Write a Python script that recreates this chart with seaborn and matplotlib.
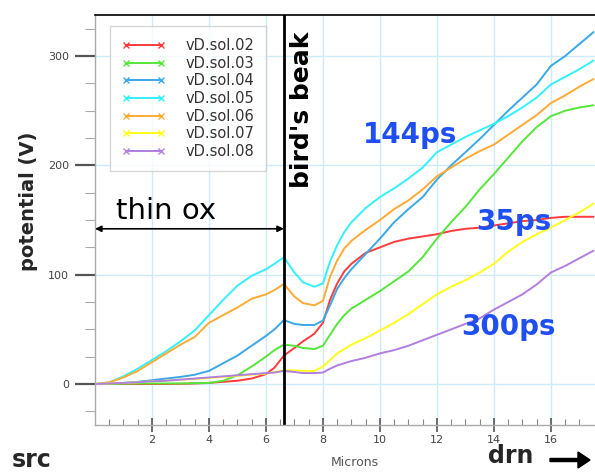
import numpy as np
import pandas as pd
import matplotlib
matplotlib.use("Agg")
import matplotlib.pyplot as plt
from matplotlib.lines import Line2D
import seaborn as sns

x_microns = [0, 0.5, 1, 1.5, 2, 2.5, 3, 3.5, 4, 4.5, 5, 5.5, 6, 6.3, 6.63, 7.0, 7.3, 7.7, 8.0, 8.25,
             8.5, 8.75, 9.0, 9.5, 10.0, 10.5, 11.0, 11.5, 12.0, 12.5, 13.0, 13.5, 14.0, 14.5, 15.0,
             15.5, 16.0, 16.5, 17.0, 17.5]

sol02 = [0, 0, 0, 0, 0, 0, 0.2, 0.5, 1, 2, 3, 5, 9, 15, 26, 33, 39, 46, 56, 77,
         92, 103, 110, 120, 125, 130, 133, 135, 137, 140, 142, 143, 145, 147, 149,
         150, 152, 153, 153, 153]
sol03 = [0, 0, 0.3, 0.5, 0.5, 0.5, 0.5, 0.8, 1, 3, 8, 16, 25, 31, 36, 35, 33, 32, 35, 45,
         55, 63, 69, 77, 85, 94, 103, 116, 133, 148, 162, 178, 192, 207, 222,
         235, 245, 250, 253, 255]
sol04 = [0, 0.5, 1, 2, 3.5, 5, 6.5, 8.5, 12, 19, 26, 35, 44, 50, 58.5, 55, 54, 54, 58, 72,
         87, 97, 105, 119, 133, 148, 160, 171, 187, 200, 212, 224, 237, 250, 262,
         274, 291, 300, 311, 322]
sol05 = [0, 1.5, 7, 14, 22, 30, 39, 49, 63, 77, 90, 99, 105, 110, 116, 102, 93, 89, 92, 112,
         127, 139, 148, 161, 171, 179, 188, 198, 212, 219, 226, 232, 238, 245, 253,
         262, 274, 281, 288, 296]
sol06 = [0, 1.5, 6, 12, 20, 28, 36, 43, 56, 63, 70, 78, 82, 86, 91.5, 80, 74, 72, 76, 98,
         113, 124, 131, 141, 150, 160, 168, 178, 190, 198, 206, 213, 219, 228, 237,
         246, 257, 264, 272, 279]
sol07 = [0, 0.5, 1, 1.5, 2.5, 3, 4, 4.5, 5.5, 6.5, 7.5, 8.5, 9.5, 11, 12.5, 12.5, 12, 12, 16, 22,
         28, 32, 36, 42, 49, 56, 64, 73, 82, 89, 95, 102, 110, 121, 130,
         137, 143, 150, 157, 165]
sol08 = [0, 0.5, 1, 1.5, 2.5, 3, 4, 5, 6, 7, 8, 9, 10, 10.5, 12, 11, 10, 10, 10.5, 14,
         17, 19, 21, 24, 28, 31, 35, 40, 45, 50, 55, 60, 68, 75, 82,
         91, 102, 108, 115, 122]

series_names = ["vD.sol.02", "vD.sol.03", "vD.sol.04", "vD.sol.05", "vD.sol.06", "vD.sol.07", "vD.sol.08"]
series_values = [sol02, sol03, sol04, sol05, sol06, sol07, sol08]
series_colors = ["#ff3b3b", "#55e63a", "#3aa8e8", "#33f0ff", "#ffaa33", "#ffff1a", "#b07fe0"]

x_ticks = [2, 4, 6, 8, 10, 12, 14, 16]
y_ticks = [0, 100, 200, 300]
beak_x = 6.63

rows = []
for name, vals in zip(series_names, series_values):
    for xv, yv in zip(x_microns, vals):
        rows.append({"Microns": xv, "potential": yv, "series": name})
df = pd.DataFrame(rows)

sns.set_style("white")
plt.rcParams['font.family'] = ['DejaVu Sans']

fig = plt.figure(figsize=(5.95, 4.72), dpi=100)
ax = fig.add_axes([95/595, 47/472, 500/595, 410/472])

sns.lineplot(data=df, x="Microns", y="potential", hue="series",
             palette=dict(zip(series_names, series_colors)), linewidth=1.4,
             legend=False, ax=ax, sort=False)

ax.set_xlim(0, 17.55)
ax.set_ylim(-37.5, 337.6)
ax.set_xticks(x_ticks)
ax.set_xticks(np.arange(0.5, 17.5, 0.5), minor=True)
ax.set_yticks(y_ticks)
ax.set_yticks(np.arange(-25, 337, 25), minor=True)
ax.grid(True, which="major", color="#cfeaf8", linewidth=1.0)
ax.set_axisbelow(True)

ax.tick_params(axis="x", which="both", bottom=True)
ax.tick_params(axis="y", which="both", left=True)
ax.tick_params(axis="x", which="major", direction="inout", length=10, width=1.2,
               color="#555555", labelsize=8, labelcolor="#444444", pad=2)
ax.tick_params(axis="x", which="minor", direction="in", length=4, width=0.8, color="#888888")
ax.tick_params(axis="y", which="major", direction="out", length=14.5, width=1.6,
               color="#555555", labelsize=8, labelcolor="#444444", pad=4)
ax.tick_params(axis="y", which="minor", direction="out", length=7, width=0.8, color="#aaaaaa")

for s in ["left", "bottom"]:
    ax.spines[s].set_color("#aaaaaa")
    ax.spines[s].set_linewidth(1.0)
ax.spines["top"].set_color("black")
ax.spines["top"].set_linewidth(1.2)
ax.spines["right"].set_visible(False)

ax.set_xlabel("")
ax.set_ylabel("")

ax.axvline(beak_x, color="black", linewidth=2)

# legend
handles = [Line2D([], [], color=c, marker="x", markersize=5, linewidth=1.4) for c in series_colors]
leg = ax.legend(handles, series_names, loc="upper left", bbox_to_anchor=(0.03, 0.972),
                numpoints=2, fontsize=10.5, frameon=True, fancybox=False,
                handlelength=3.0, labelspacing=0.18, borderpad=0.8, handletextpad=1.4,
                borderaxespad=0)
leg.get_frame().set_edgecolor("#cccccc")
leg.get_frame().set_linewidth(1.0)
for t in leg.get_texts():
    t.set_color("#333333")

# annotations
ax.annotate("", xy=(0, 142), xytext=(beak_x, 142),
            arrowprops=dict(arrowstyle="<|-|>", color="black", lw=1.2, mutation_scale=9,
                            shrinkA=0, shrinkB=0))
ax.text(2.5, 158, "thin ox", fontsize=21, ha="center", va="center", color="black")
ax.text(7.25, 322, "bird's beak", fontsize=18, fontweight="bold", rotation=90,
        ha="center", va="top", color="black")

blue = "#1f4ff0"
ax.text(11.05, 228, "144ps", fontsize=20, fontweight="bold", color=blue, ha="center", va="center")
ax.text(14.7, 148, "35ps", fontsize=20, fontweight="bold", color=blue, ha="center", va="center")
ax.text(14.5, 52, "300ps", fontsize=20, fontweight="bold", color=blue, ha="center", va="center")

fig.text(28/595, 1 - 201/472, "potential (V)", rotation=90, fontsize=14, fontweight="bold",
         ha="center", va="center")
fig.text(32/595, 1 - 460/472, "src", fontsize=17, fontweight="bold", ha="center", va="center")
fig.text(511/595, 1 - 456/472, "drn", fontsize=17, fontweight="bold", ha="center", va="center")
fig.text(355/595, 1 - 462/472, "Microns", fontsize=9, color="#555555", ha="center", va="center")
fig.patches.append(matplotlib.patches.FancyArrow(550/595, 1 - 460/472, 28/595, 0,
                                                 width=3/472, head_width=16/472, head_length=12/595,
                                                 length_includes_head=False, color="black",
                                                 transform=fig.transFigure, figure=fig))

fig.savefig("out.png", dpi=100)
